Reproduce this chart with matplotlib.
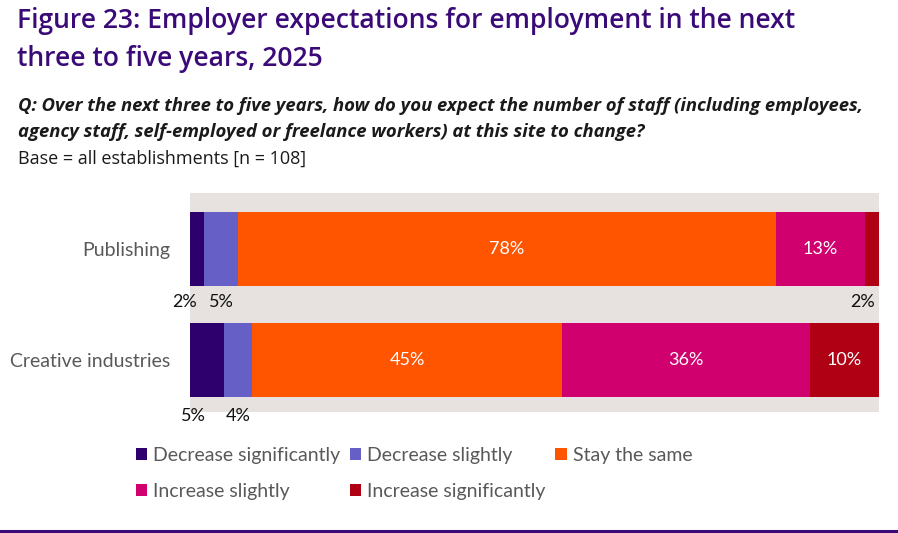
import matplotlib
matplotlib.use("Agg")
import matplotlib.pyplot as plt
from matplotlib.patches import Patch

# Survey results (percent of establishments)
categories = ["Publishing", "Creative industries"]
series_names = ["Decrease significantly", "Decrease slightly", "Stay the same",
                "Increase slightly", "Increase significantly"]
decrease_significantly = [2, 5]
decrease_slightly = [5, 4]
stay_the_same = [78, 45]
increase_slightly = [13, 36]
increase_significantly = [2, 10]

series_values = [decrease_significantly, decrease_slightly, stay_the_same,
                 increase_slightly, increase_significantly]
colors = ["#2E006E", "#6660C6", "#FF5400", "#D0006F", "#AF0014"]

W, H = 898, 533
fig = plt.figure(figsize=(W / 100, H / 100), dpi=100)
fig.patch.set_facecolor("white")

def fx(px):
    return px / W

def fy(py):
    return 1 - py / H

purple = "#3A0A78"
head_font = "Open Sans"
body_font = "Lato"

fig.text(fx(17), fy(21), "Figure 23: Employer expectations for employment in the next",
         fontsize=19.1, fontweight="semibold", color=purple, family=head_font, va="center")
fig.text(fx(17), fy(59), "three to five years, 2025",
         fontsize=19.1, fontweight="semibold", color=purple, family=head_font, va="center")
fig.text(fx(18), fy(106),
         "Q: Over the next three to five years, how do you expect the number of staff (including employees,",
         fontsize=13.3, fontweight="bold", style="italic", color="#1a1a1a", family=head_font, va="center")
fig.text(fx(18), fy(132),
         "agency staff, self-employed or freelance workers) at this site to change?",
         fontsize=13.3, fontweight="bold", style="italic", color="#1a1a1a", family=head_font, va="center")
fig.text(fx(18), fy(159), "Base = all establishments [n = 108]",
         fontsize=13, color="#1a1a1a", family=head_font, va="center")

# Plot area
ax = fig.add_axes([fx(190), fy(412), fx(879) - fx(190), fy(193) - fy(412)])
ax.set_facecolor("#E7E2DF")
ypos = [0, 1]
bar_h = 0.667
lefts = [0.0, 0.0]
bar_rects = []
for name, vals, col in zip(series_names, series_values, colors):
    rects = ax.barh(ypos, vals, left=lefts, height=bar_h, color=col, label=name,
                    edgecolor="none")
    bar_rects.append(rects)
    lefts = [l + v for l, v in zip(lefts, vals)]

ax.set_xlim(0, 100)
ax.set_ylim(1.468, -0.505)
for s in ax.spines.values():
    s.set_visible(False)
ax.set_xticks([])
ax.set_yticks(ypos)
ax.set_yticklabels(categories, fontsize=14, color="#595959", family=body_font)
ax.tick_params(axis="y", length=0, pad=14)

# Value labels: inside large segments, below small ones
small_offsets = {(0, 0): -12, (0, 1): -14, (1, 0): 0, (1, 1): 0, (4, 0): -10}
below_dy = {0: -16, 1: -19}
for si, (rects, vals) in enumerate(zip(bar_rects, series_values)):
    for ci, (r, v) in enumerate(zip(rects, vals)):
        cx = r.get_x() + r.get_width() / 2
        cy = r.get_y() + r.get_height() / 2
        if v >= 10:
            ax.text(cx, cy, f"{v}%", ha="center", va="center", color="white",
                    fontsize=13, family=body_font)
        else:
            dx = small_offsets.get((si, ci), 0) * 0.72
            ax.annotate(f"{v}%", xy=(cx, r.get_y() + r.get_height()),
                        xytext=(dx, below_dy[ci] * 0.72), textcoords="offset points",
                        ha="center", va="center", color="#111111", fontsize=13,
                        family=body_font, annotation_clip=False)

# Legend (column-major order for a 3-column, 2-row layout)
order = [0, 3, 1, 4, 2]
handles = [Patch(facecolor=colors[i], edgecolor="none") for i in order]
labels = [series_names[i] for i in order]
leg = fig.legend(handles, labels, ncol=3, loc="upper left",
                 bbox_to_anchor=(fx(118), fy(429)), frameon=False,
                 handlelength=0.58, handleheight=0.58,
                 handletextpad=0.32, columnspacing=0.5, labelspacing=1.0,
                 prop={"family": body_font, "size": 14})
for t in leg.get_texts():
    t.set_color("#595959")

# Bottom rule
fig.add_artist(plt.Line2D([0, 1], [fy(531), fy(531)], color=purple, linewidth=2.2,
                          transform=fig.transFigure))

fig.savefig("out.png", dpi=100)
